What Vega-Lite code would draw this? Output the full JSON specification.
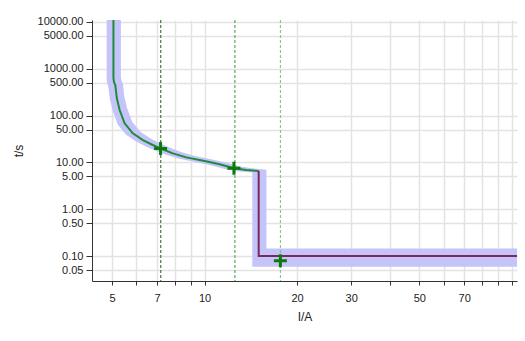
{
  "$schema": "https://vega.github.io/schema/vega-lite/v6.json",
  "width": 425,
  "height": 261,
  "autosize": "none",
  "padding": {"left": 92, "top": 20, "right": 8, "bottom": 60},
  "background": "white",
  "config": {
    "view": {"stroke": null},
    "axis": {
      "labelFont": "Liberation Sans",
      "labelFontSize": 11,
      "labelColor": "#222222",
      "titleFont": "Liberation Sans",
      "titleFontSize": 12,
      "titleFontWeight": "normal",
      "titleColor": "#222222",
      "domainColor": "#333333",
      "tickColor": "#333333",
      "gridColor": "#e3e3e3",
      "gridWidth": 1.5
    }
  },
  "datasets": {
    "band": [
      {"o": 1, "I": 5.34, "t": 10940},
      {"o": 2, "I": 5.34, "t": 680},
      {"o": 3, "I": 5.36, "t": 558},
      {"o": 4, "I": 5.42, "t": 482},
      {"o": 5, "I": 5.48, "t": 251},
      {"o": 6, "I": 5.60, "t": 141},
      {"o": 7, "I": 5.81, "t": 73.4},
      {"o": 8, "I": 6.18, "t": 44.9},
      {"o": 9, "I": 6.67, "t": 32.3},
      {"o": 10, "I": 7.17, "t": 25.3},
      {"o": 11, "I": 7.61, "t": 21.3},
      {"o": 12, "I": 8.34, "t": 16.8},
      {"o": 13, "I": 9.23, "t": 13.8},
      {"o": 14, "I": 10.58, "t": 11.5},
      {"o": 15, "I": 11.84, "t": 9.8},
      {"o": 16, "I": 13.18, "t": 8.04},
      {"o": 17, "I": 14.46, "t": 7.40},
      {"o": 18, "I": 15.9, "t": 7.0},
      {"o": 19, "I": 15.9, "t": 0.146},
      {"o": 20, "I": 104, "t": 0.146},
      {"o": 21, "I": 104, "t": 0.059},
      {"o": 22, "I": 14.3, "t": 0.059},
      {"o": 23, "I": 14.3, "t": 6.1},
      {"o": 24, "I": 12.99, "t": 6.39},
      {"o": 25, "I": 11.84, "t": 6.94},
      {"o": 26, "I": 10.63, "t": 8.46},
      {"o": 27, "I": 9.5, "t": 9.94},
      {"o": 28, "I": 8.28, "t": 11.9},
      {"o": 29, "I": 7.49, "t": 14.5},
      {"o": 30, "I": 6.83, "t": 18.4},
      {"o": 31, "I": 6.44, "t": 21.8},
      {"o": 32, "I": 5.99, "t": 27.9},
      {"o": 33, "I": 5.55, "t": 38.8},
      {"o": 34, "I": 5.22, "t": 63.4},
      {"o": 35, "I": 5.03, "t": 122},
      {"o": 36, "I": 4.92, "t": 217},
      {"o": 37, "I": 4.86, "t": 416},
      {"o": 38, "I": 4.82, "t": 482},
      {"o": 39, "I": 4.80, "t": 587},
      {"o": 40, "I": 4.80, "t": 10940}
    ],
    "green": [
      {"o": 1, "I": 5.05, "t": 10940},
      {"o": 2, "I": 5.05, "t": 632},
      {"o": 3, "I": 5.07, "t": 519},
      {"o": 4, "I": 5.12, "t": 448},
      {"o": 5, "I": 5.18, "t": 233},
      {"o": 6, "I": 5.29, "t": 131},
      {"o": 7, "I": 5.49, "t": 68.2},
      {"o": 8, "I": 5.84, "t": 41.7},
      {"o": 9, "I": 6.30, "t": 30.0},
      {"o": 10, "I": 6.78, "t": 23.5},
      {"o": 11, "I": 7.19, "t": 19.8},
      {"o": 12, "I": 7.88, "t": 15.6},
      {"o": 13, "I": 8.72, "t": 12.8},
      {"o": 14, "I": 10.0, "t": 10.7},
      {"o": 15, "I": 11.19, "t": 9.1},
      {"o": 16, "I": 12.46, "t": 7.47},
      {"o": 17, "I": 13.67, "t": 6.88},
      {"o": 18, "I": 15.0, "t": 6.54}
    ],
    "purple": [
      {"o": 1, "I": 15.0, "t": 6.54},
      {"o": 2, "I": 15.0, "t": 0.1},
      {"o": 3, "I": 104, "t": 0.1}
    ],
    "vlines": [
      {"I": 7.2, "kind": "a"},
      {"I": 12.55, "kind": "b"},
      {"I": 17.65, "kind": "c"}
    ],
    "markers": [
      {"I": 7.19, "t": 19.8},
      {"I": 12.46, "t": 7.47},
      {"I": 17.65, "t": 0.08}
    ]
  },
  "encoding": {
    "x": {
      "field": "I",
      "type": "quantitative",
      "scale": {"type": "log", "domain": [4.3, 104], "nice": false},
      "axis": {
        "title": "I/A",
        "values": [5, 6, 7, 8, 9, 10, 20, 30, 40, 50, 60, 70, 80, 90, 100],
        "format": "d",
        "labelExpr": "indexof([5,7,10,20,30,50,70], datum.value) >= 0 ? datum.label : ''",
        "tickSize": 4,
        "labelPadding": 7,
        "titlePadding": 8,
        "labelFlush": false,
        "labelOverlap": false
      }
    }
  },
  "layer": [
    {
      "data": {"name": "band"},
      "mark": {"type": "line", "fill": "#c4c4fb", "stroke": null, "strokeWidth": 0, "clip": true},
      "encoding": {
        "y": {
          "field": "t",
          "type": "quantitative",
          "scale": {"type": "log", "domain": [0.0294, 10940], "nice": false},
          "axis": {
            "title": "t/s",
            "values": [0.05, 0.1, 0.5, 1, 5, 10, 50, 100, 500, 1000, 5000, 10000],
            "format": ".2f",
            "tickSize": 6,
            "labelPadding": 3,
            "titlePadding": 12,
            "labelOverlap": false,
            "labelFlush": false
          }
        },
        "order": {"field": "o", "type": "quantitative"}
      }
    },
    {
      "data": {"name": "green"},
      "mark": {"type": "line", "color": "#218a38", "strokeWidth": 2, "clip": true},
      "encoding": {
        "y": {"field": "t", "type": "quantitative"},
        "order": {"field": "o", "type": "quantitative"}
      }
    },
    {
      "data": {"name": "purple"},
      "mark": {"type": "line", "color": "#7a2a5a", "strokeWidth": 2, "clip": true},
      "encoding": {
        "y": {"field": "t", "type": "quantitative"},
        "order": {"field": "o", "type": "quantitative"}
      }
    },
    {
      "data": {"name": "vlines"},
      "mark": {"type": "rule", "strokeDash": [3, 2], "strokeWidth": 1},
      "encoding": {
        "color": {
          "field": "kind",
          "type": "nominal",
          "scale": {"domain": ["a", "b", "c"], "range": ["#1d5e1d", "#3a9a3a", "#72c072"]},
          "legend": null
        }
      }
    },
    {
      "data": {"name": "markers"},
      "mark": {"type": "point", "shape": "M-1,0L1,0M0,-1L0,1", "filled": false, "stroke": "#0b7a0b", "strokeWidth": 3, "size": 169, "opacity": 1},
      "encoding": {
        "y": {"field": "t", "type": "quantitative"}
      }
    }
  ]
}
